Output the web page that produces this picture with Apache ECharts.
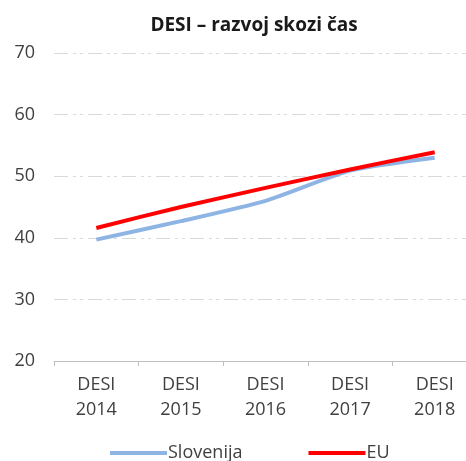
<!DOCTYPE html>
<html>
<head>
<meta charset="utf-8">
<script src="https://cdn.jsdelivr.net/npm/echarts@6/dist/echarts.min.js"></script>
<style>
  html, body { margin: 0; padding: 0; background: #fff; }
  #chart { width: 466px; height: 461px; }
</style>
</head>
<body>
<div id="chart"></div>
<script>
const categories = ['DESI\n2014', 'DESI\n2015', 'DESI\n2016', 'DESI\n2017', 'DESI\n2018']
const slovenija = [39.7, 42.7, 46.0, 50.9, 53.0]
const eu = [41.6, 45.0, 48.1, 51.1, 53.9]

const font = 'Open Sans, Liberation Sans, sans-serif'
const chart = echarts.init(document.getElementById('chart'))

chart.setOption({
  animation: false,
  title: {
    text: 'DESI – razvoj skozi čas',
    left: 249,
    textAlign: 'center',
    top: 11,
    textStyle: { fontFamily: font, fontSize: 19, fontWeight: 'bold', color: '#1a1a1a' }
  },
  grid: { left: 54, width: 423, top: 53, height: 308, outerBoundsMode: 'none', containLabel: false },
  legend: {
    top: 439,
    left: 105,
    itemWidth: 57,
    itemHeight: 4,
    itemGap: 66,
    icon: 'rect',
    textStyle: { fontFamily: font, fontSize: 18, color: '#404040', padding: [0, 0, 0, -4] },
    data: ['Slovenija', 'EU']
  },
  xAxis: {
    type: 'category',
    data: categories,
    boundaryGap: true,
    axisLine: { lineStyle: { color: '#bfbfbf', width: 1 } },
    axisTick: { show: true, length: 5, lineStyle: { color: '#bfbfbf' } },
    axisLabel: { fontFamily: font, fontSize: 18, color: '#404040', lineHeight: 25, margin: 11, interval: 0 }
  },
  yAxis: {
    type: 'value',
    min: 20,
    max: 70,
    interval: 10,
    axisLine: { show: false },
    axisTick: { show: false },
    axisLabel: { fontFamily: font, fontSize: 18, color: '#404040', margin: 19 },
    splitLine: { lineStyle: { color: '#d9d9d9', width: 1, type: [14, 5, 3, 4, 3, 5] } }
  },
  series: [
    {
      name: 'Slovenija',
      type: 'line',
      data: slovenija,
      smooth: 0.2,
      symbol: 'none',
      lineStyle: { color: '#8eb4e3', width: 4 },
      itemStyle: { color: '#8eb4e3' }
    },
    {
      name: 'EU',
      type: 'line',
      data: eu,
      smooth: 0.2,
      symbol: 'none',
      lineStyle: { color: '#ff0000', width: 4 },
      itemStyle: { color: '#ff0000' }
    }
  ]
})
</script>
</body>
</html>
